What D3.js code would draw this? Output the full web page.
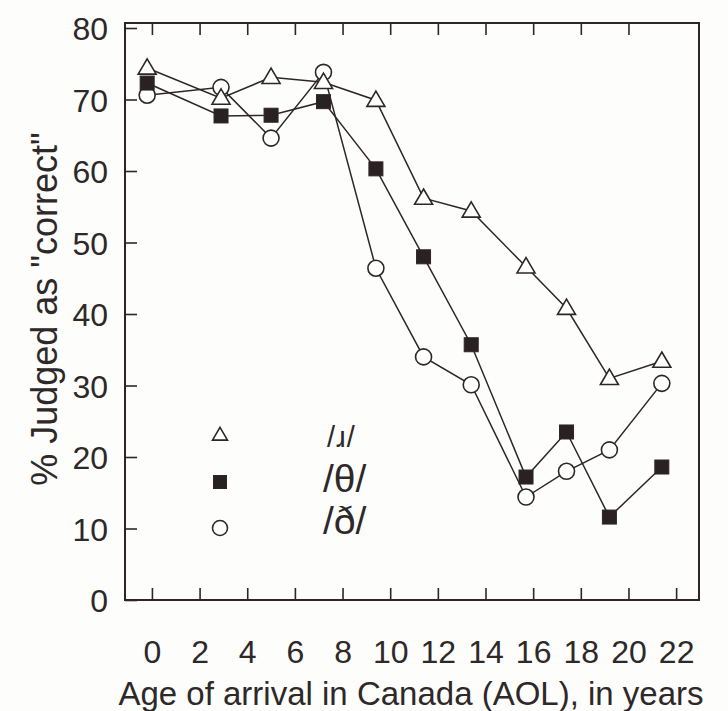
<!DOCTYPE html>
<html>
<head>
<meta charset="utf-8">
<script src="https://cdn.jsdelivr.net/npm/d3@7/dist/d3.min.js"></script>
<style>
  html, body { margin: 0; padding: 0; background: #fdfdfc; }
  svg text { font-family: "Liberation Sans", Arial, sans-serif; fill: #2e2828; }
</style>
</head>
<body>
<script>
// 数据：从图上读出
const ages = [-0.2, 2.9, 5.0, 7.2, 9.4, 11.4, 13.4, 15.7, 17.4, 19.2, 21.4];
const rValues = [74.4, 70.2, 73.1, 72.4, 69.9, 56.2, 54.4, 46.6, 40.8, 31.0, 33.4];
const thValues = [72.3, 67.7, 67.8, 69.7, 60.3, 48.0, 35.7, 17.2, 23.5, 11.6, 18.6];
const dhValues = [70.6, 71.7, 64.6, 73.8, 46.4, 34.0, 30.1, 14.4, 18.0, 21.0, 30.3];
const seriesNames = ["/\u0279/", "/\u03b8/", "/\u00f0/"];
const markers = ["triangle", "square", "circle"];
const xTicks = [0, 2, 4, 6, 8, 10, 12, 14, 16, 18, 20, 22];
const yTicks = [0, 10, 20, 30, 40, 50, 60, 70, 80];

const ink = "#2e2626";
const W = 728, H = 711;

const svg = d3.select("body").append("svg")
    .attr("width", W)
    .attr("height", H);

const x = d3.scaleLinear().domain([-1.13, 22.96]).range([125, 699]);
const y = d3.scaleLinear().domain([0, 80.7]).range([600, 23]);

// 边框
svg.append("rect")
    .attr("x", x.range()[0])
    .attr("y", y.range()[1])
    .attr("width", x.range()[1] - x.range()[0])
    .attr("height", y.range()[0] - y.range()[1])
    .attr("fill", "none")
    .attr("stroke", ink)
    .attr("stroke-width", 2);

// y轴
const yAxis = svg.append("g")
    .attr("transform", `translate(${x.range()[0]},0)`)
    .call(d3.axisLeft(y).tickValues(yTicks).tickSize(-12).tickPadding(17).tickFormat(d3.format("d")));
yAxis.select(".domain").remove();
yAxis.selectAll("line").attr("stroke", ink).attr("stroke-width", 1.6);
yAxis.selectAll("text").attr("font-size", 32).attr("dy", "0.36em");

// x轴 下
const xAxis = svg.append("g")
    .attr("transform", `translate(0,${y.range()[0]})`)
    .call(d3.axisBottom(x).tickValues(xTicks).tickSize(-12).tickPadding(43).tickFormat(d3.format("d")));
xAxis.select(".domain").remove();
xAxis.selectAll("line").attr("stroke", ink).attr("stroke-width", 1.6);
xAxis.selectAll("text").attr("font-size", 32).attr("dy", "0.62em");

// x轴 上 (只有刻度)
const xTop = svg.append("g")
    .attr("transform", `translate(0,${y.range()[1]})`)
    .call(d3.axisTop(x).tickValues(xTicks.slice(0, 11)).tickSize(-12).tickFormat(""));
xTop.select(".domain").remove();
xTop.selectAll("line").attr("stroke", ink).attr("stroke-width", 1.6);

// 轴标题
svg.append("text")
    .attr("x", 411)
    .attr("y", 705)
    .attr("text-anchor", "middle")
    .attr("font-size", 33)
    .text("Age of arrival in Canada (AOL), in years");

svg.append("text")
    .attr("transform", "translate(57,309) rotate(-90)")
    .attr("text-anchor", "middle")
    .attr("font-size", 36)
    .text("% Judged as \"correct\"");

// 标记
function drawMarker(g, type, cx, cy, s) {
    if (type === "triangle") {
        const h = s * 0.85;
        g.append("path")
            .attr("d", `M${cx},${cy - h * 0.6}L${cx + s / 2},${cy + h * 0.4}L${cx - s / 2},${cy + h * 0.4}Z`)
            .attr("fill", "#fff").attr("stroke", ink).attr("stroke-width", 1.6);
    } else if (type === "square") {
        g.append("rect")
            .attr("x", cx - s / 2).attr("y", cy - s / 2)
            .attr("width", s).attr("height", s)
            .attr("fill", "#2a2222").attr("stroke", ink).attr("stroke-width", 1);
    } else {
        g.append("circle")
            .attr("cx", cx).attr("cy", cy).attr("r", s / 2)
            .attr("fill", "#fff").attr("stroke", ink).attr("stroke-width", 1.6);
    }
}

const allSeries = [rValues, thValues, dhValues];
const line = d3.line().x(d => x(d[0])).y(d => y(d[1]));

allSeries.forEach(function (vals) {
    svg.append("path")
        .datum(ages.map((a, i) => [a, vals[i]]))
        .attr("d", line)
        .attr("fill", "none")
        .attr("stroke", ink)
        .attr("stroke-width", 1.5);
});

const sizes = { triangle: 18, square: 14, circle: 16 };
const gm = svg.append("g");
// 画顺序：圆、方、三角
[2, 1, 0].forEach(function (k) {
    allSeries[k].forEach(function (v, i) {
        drawMarker(gm, markers[k], x(ages[i]), y(v), sizes[markers[k]]);
    });
});

// 图例
const legY = [435, 482, 528];
const legSize = { triangle: 15, square: 13, circle: 15 };
const gl = svg.append("g");
markers.forEach(function (m, i) {
    drawMarker(gl, m, 220, legY[i], legSize[m]);
});
gl.selectAll("text")
    .data(seriesNames)
    .enter()
    .append("text")
    .attr("x", (d, i) => i === 0 ? 327 : 323)
    .attr("y", (d, i) => [447, 492, 534][i])
    .attr("font-size", (d, i) => i === 0 ? 29 : 39)
    .attr("letter-spacing", (d, i) => i === 0 ? 1 : 0)
    .text(d => d);
</script>
</body>
</html>
